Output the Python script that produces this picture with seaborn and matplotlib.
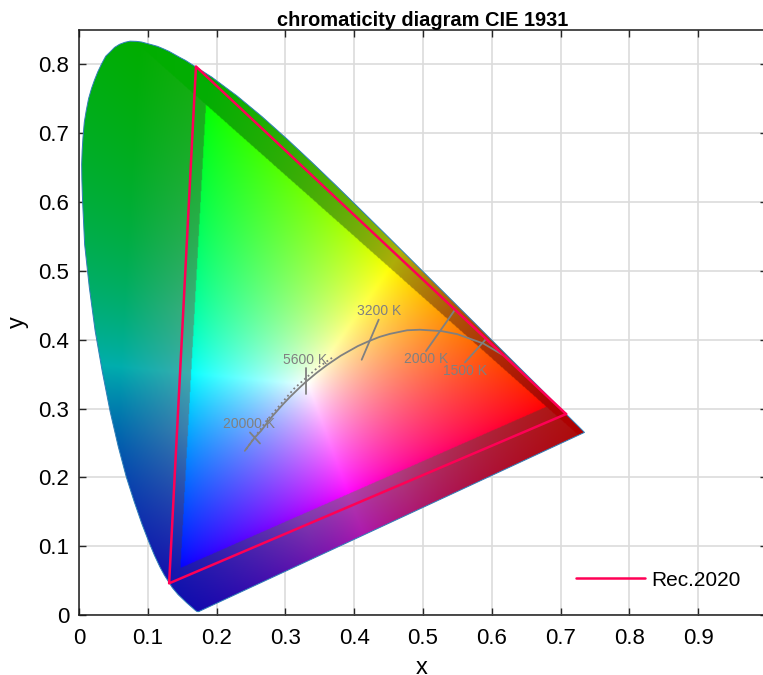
import numpy as np
import pandas as pd
import matplotlib
matplotlib.use('Agg')
import matplotlib.pyplot as plt
from matplotlib.patches import Polygon
import seaborn as sns

# spectral locus, CIE 1931 (380..700 nm), denser where it bends
locus_x = [.1741, .1733, .1714, .1689, .1644, .1566, .1440, .1355, .1241, .1175, .1096, .1010, .0913, .0803, .0687,
           .0570, .0454, .0340, .0235, .0150, .0082, .0059, .0049, .0042, .0039, .0046, .0058, .0077, .0106,
           .0139, .0183, .0228, .0273, .0328, .0389, .0446, .0517, .0589, .0666, .0743, .0833, .0911, .0986,
           .1060, .1142, .1226, .1310, .1385, .1465, .1547, .1929, .2296, .2658, .3016, .3373, .3731, .4087,
           .4441, .4788, .5125, .5448, .5752, .6029, .6270, .6482, .6658, .6915, .7079, .7190, .7260, .7300,
           .7334, .7347]
locus_y = [.0050, .0048, .0051, .0069, .0109, .0177, .0297, .0399, .0578, .0700, .0868, .1075, .1327, .1645, .2007,
           .2450, .2950, .3530, .4127, .4760, .5384, .5865, .6095, .6327, .6548, .6748, .6941, .7160, .7334,
           .7502, .7654, .7780, .7892, .8007, .8120, .8175, .8247, .8292, .8321, .8338, .8335, .8325, .8305,
           .8285, .8262, .8227, .8189, .8147, .8102, .8059, .7816, .7543, .7243, .6923, .6589, .6245, .5896,
           .5547, .5202, .4866, .4544, .4242, .3965, .3725, .3514, .3340, .3083, .2920, .2809, .2740, .2700,
           .2666, .2653]

# Rec.2020 primaries
rec_x = [.708, .170, .131, .708]
rec_y = [.292, .797, .046, .292]

# bright inner triangle (r, g, b) and its white point
inner_x = [.679, .184, .147]
inner_y = [.3025, .742, .068]
white_xy = (.333, .335)

# planckian locus
planck_x = [.241, .2548, .2644, .2714, .2807, .2952, .3064, .3221, .330, .3451, .3608, .3805, .4052, .4206, .4369,
            .4520, .4770, .4956, .527, .5497, .5877, .6197, .6528]
planck_y = [.2385, .257, .2674, .2765, .2884, .3048, .3166, .3318, .339, .3516, .3635, .3768, .3907, .3976, .4041,
            .4085, .4137, .4145, .4125, .4081, .3945, .3757, .3444]

# daylight locus (dotted)
day_x = [.243, .2728, .3127, .3457, .369]
day_y = [.241, .2827, .3290, .3585, .3745]

# isotherm ticks and labels
iso_x = [(.2485, .2631), (.3295, .3295), (.4356, .4109), (.5465, .5044), (.5916, .561)]
iso_y = [(.2652, .2492), (.3583, .3205), (.4291, .3709), (.4436, .3835), (.401, .367)]
iso_labels = ['20000 K', '5600 K', '3200 K', '2000 K', '1500 K']
label_x = [.2475, .329, .436, .504, .561]
label_y = [.2774, .371, .441, .372, .354]

x_ticks = [0, .1, .2, .3, .4, .5, .6, .7, .8, .9, 1]
x_ticklabels = ['0', '0.1', '0.2', '0.3', '0.4', '0.5', '0.6', '0.7', '0.8', '0.9', '1']
y_ticks = [0, .1, .2, .3, .4, .5, .6, .7, .8]
y_ticklabels = ['0', '0.1', '0.2', '0.3', '0.4', '0.5', '0.6', '0.7', '0.8']

sns.set_style('ticks')
plt.rcParams['font.family'] = ['Liberation Sans', 'DejaVu Sans']


def chroma_image(n=900):
    xs = np.linspace(0, .8, n)
    ys = np.linspace(0, .85, n)
    gx, gy = np.meshgrid(xs, ys)
    m = np.array([inner_x, inner_y, [1, 1, 1]])
    minv = np.linalg.inv(m)
    w = minv @ np.array([white_xy[0], white_xy[1], 1])
    pts = np.stack([gx, gy, np.ones_like(gx)], axis=-1)
    rgb = (pts @ minv.T) / w
    neg = np.clip(-rgb.min(axis=-1), 0, None)
    inside = neg <= 0
    below_edge = rgb[..., 2] < 0     # past the green-red edge there is hardly any wash
    rgb = np.clip(rgb, 0, None)
    rgb = rgb / rgb.max(axis=-1, keepdims=True)
    mid = np.sort(rgb, axis=-1)[..., 1]
    # outside of the inner triangle: darker, fading to saturated at the locus
    wash = .36 * np.clip(1 - neg / .6, 0, 1) * np.clip(mid + .4, 0, 1)
    wash = np.where(below_edge, wash * .15, wash)[..., None]
    outer = (rgb * (1 - wash) + wash) * .68
    img = np.where(inside[..., None], rgb ** (1 / 1.3), outer)
    return np.clip(img, 0, 1)


fig = plt.figure(figsize=(7.63, 6.75), dpi=100)
ax = fig.add_axes([79 / 763, 60 / 675, 688 / 763, 585 / 675])

ax.grid(True, color='#dcdcdc', lw=1.2, zorder=0)
ax.set_axisbelow(True)

im = ax.imshow(chroma_image(), extent=(0, .8, 0, .85), origin='lower', aspect='auto',
               interpolation='bilinear', zorder=1)
locus = Polygon(np.column_stack([locus_x, locus_y]), closed=True, transform=ax.transData)
im.set_clip_path(locus)
ax.set_xlim(0, 1)
ax.set_ylim(0, .85)

ax.plot(locus_x + locus_x[:1], locus_y + locus_y[:1], color='#2f7fb8', lw=.7, zorder=2)

grey = '#808080'
sns.lineplot(x=planck_x, y=planck_y, sort=False, estimator=None, color=grey, lw=1.3, ax=ax, zorder=3)
sns.lineplot(x=day_x, y=day_y, sort=False, estimator=None, color=grey, lw=1.3, ls=':', ax=ax, zorder=3)
for xs, ys in zip(iso_x, iso_y):
    ax.plot(xs, ys, color=grey, lw=1.3, zorder=3)
for lx, ly, s in zip(label_x, label_y, iso_labels):
    ax.text(lx, ly, s, color=grey, fontsize=10, ha='center', va='center', zorder=4)

rec_df = pd.DataFrame({'x': rec_x, 'y': rec_y})
sns.lineplot(data=rec_df, x='x', y='y', sort=False, estimator=None, color='#ff0055', lw=1.8,
             label='Rec.2020', ax=ax, zorder=5)

ax.set_xticks(x_ticks)
ax.set_xticklabels(x_ticklabels)
ax.set_yticks(y_ticks)
ax.set_yticklabels(y_ticklabels)
ax.tick_params(direction='in', length=5, width=1, top=True, right=True, labelsize=16,
               color='#262626', labelcolor='black')
ax.tick_params(axis='x', pad=9)
ax.tick_params(axis='y', pad=7)
for s in ax.spines.values():
    s.set_linewidth(1.1)
    s.set_color('#1a1a1a')
    s.set_visible(True)

ax.set_xlabel('x', fontsize=17, color='black', va='center')
ax.set_ylabel('y', fontsize=17, color='black', va='center')
ax.xaxis.set_label_coords(343 / 688, -53 / 585)
ax.yaxis.set_label_coords(-61 / 688, 293 / 585)
ax.set_title('chromaticity diagram CIE 1931', fontsize=14.4, fontweight='bold', pad=3, color='black')

ax.legend(loc='center left', bbox_to_anchor=(497 / 688, .0594), frameon=False, fontsize=15, handlelength=3.3,
          handletextpad=.29, borderpad=0, borderaxespad=0, labelcolor='black')

fig.savefig('out.png', dpi=100)
